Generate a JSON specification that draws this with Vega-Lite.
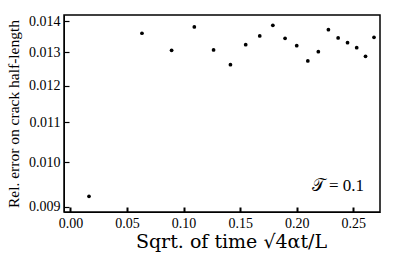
{
  "$schema": "https://vega.github.io/schema/vega-lite/v6.json",
  "autosize": "none",
  "width": 316,
  "height": 197,
  "padding": {"left": 64, "top": 15, "right": 18, "bottom": 45},
  "background": "white",
  "config": {
    "view": {"stroke": "black", "strokeWidth": 1.5},
    "font": "Liberation Serif",
    "axis": {"grid": false, "domainColor": "black", "labelColor": "black", "titleColor": "black", "labelFont": "Liberation Serif", "titleFont": "Liberation Serif", "titleFontWeight": "normal"}
  },
  "datasets": {
    "pts": [
      {"s": 0.0164, "err": 0.009226},
      {"s": 0.0632, "err": 0.013601},
      {"s": 0.0894, "err": 0.013061},
      {"s": 0.1095, "err": 0.013806},
      {"s": 0.1265, "err": 0.013070},
      {"s": 0.1414, "err": 0.012621},
      {"s": 0.1549, "err": 0.013236},
      {"s": 0.1673, "err": 0.013513},
      {"s": 0.1789, "err": 0.013862},
      {"s": 0.1897, "err": 0.013439},
      {"s": 0.2000, "err": 0.013205},
      {"s": 0.2098, "err": 0.012732},
      {"s": 0.2191, "err": 0.013018},
      {"s": 0.2280, "err": 0.013718},
      {"s": 0.2366, "err": 0.013449},
      {"s": 0.2449, "err": 0.013299},
      {"s": 0.2530, "err": 0.013142},
      {"s": 0.2608, "err": 0.012875},
      {"s": 0.2683, "err": 0.013471}
    ],
    "lab": [{"s": 0.2595, "err": 0.009455, "t": "𝒯 = 0.1"}]
  },
  "layer": [
    {
      "data": {"name": "pts"},
      "mark": {"type": "point", "filled": true, "color": "black", "size": 14, "opacity": 1},
      "encoding": {
        "x": {"field": "s", "type": "quantitative",
          "scale": {"domain": [-0.0057, 0.2736], "nice": false, "zero": false},
          "axis": {"orient": "bottom", "values": [0, 0.05, 0.1, 0.15, 0.2, 0.25], "format": ".2f", "tickSize": -5, "tickWidth": 2, "tickColor": "black", "labelFontSize": 14, "labelPadding": 9, "title": "Sqrt. of time √4αt/L", "titleFont": "DejaVu Serif", "titleFontSize": 19, "titlePadding": 2, "titleX": 167}},
        "y": {"field": "err", "type": "quantitative",
          "scale": {"type": "log", "domain": [0.008887, 0.014205], "nice": false, "zero": false},
          "axis": {"orient": "left", "values": [0.009, 0.01, 0.011, 0.012, 0.013, 0.014], "format": ".3f", "tickSize": -5, "tickWidth": 1.2, "tickColor": "black", "labelFontSize": 14, "labelPadding": 9, "title": "Rel. error on crack half-length", "titleFontSize": 15.5, "titlePadding": 7}}
      }
    },
    {
      "data": {"name": "lab"},
      "mark": {"type": "text", "align": "right", "baseline": "middle", "fontSize": 17, "font": "Liberation Serif", "color": "black"},
      "encoding": {
        "x": {"field": "s", "type": "quantitative"},
        "y": {"field": "err", "type": "quantitative"},
        "text": {"field": "t"}
      }
    }
  ]
}
